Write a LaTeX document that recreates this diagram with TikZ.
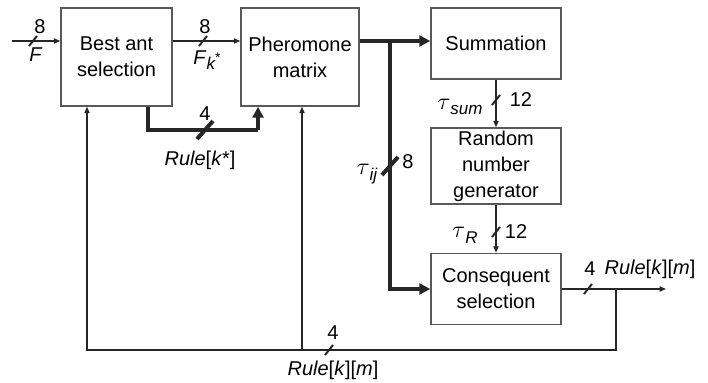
\documentclass[tikz,border=0pt]{standalone}
\usepackage{fontspec}
\setmainfont{Liberation Sans}
\usetikzlibrary{arrows.meta}
\newcommand{\sbs}[1]{\raisebox{-0.45ex}{\fontsize{8.5}{9}\selectfont\itshape #1}}

\begin{document}
\begin{tikzpicture}[x=0.5pt,y=-0.5pt,
		blk/.style={draw=black!65,line width=0.75pt,inner sep=0pt,align=center,
			font=\fontsize{10}{13}\selectfont},
		lbl/.style={inner sep=1pt,font=\fontsize{10}{12}\selectfont},
		wire/.style={line width=0.65pt,draw=black!85},
		wirea/.style={wire,-{Triangle[length=3.2pt,width=2.6pt]}},
		bus/.style={line width=2pt,draw=black!85},
		busa/.style={bus,-{Triangle[length=5.5pt,width=5.5pt]}},
		tick/.style={line width=1pt,draw=black!85},
		ticktk/.style={line width=2pt,draw=black!85}]
	\useasboundingbox (0,0) rectangle (708,383);
	
	% blocs
	\node[blk,minimum width=55.5pt,minimum height=49pt] (bas) at (116.5,57) {Best ant\\selection};
	\node[blk,minimum width=59pt,minimum height=49pt] (phm) at (300,57) {Pheromone\\matrix};
	\node[blk,minimum width=65pt,minimum height=35.5pt] (sum) at (496,43.5) {Summation};
	\node[blk,minimum width=65pt,minimum height=38pt] (rng) at (496,166) {Random\\number\\generator};
	\node[blk,minimum width=65pt,minimum height=35.5pt] (cs) at (496,289) {Consequent\\selection};
	
	% punts auxiliars
	\coordinate (in) at (12,41);
	\coordinate (rk1) at (148,130);
	\coordinate (rk2) at (258,130);
	\coordinate (tap) at (390,41);
	\coordinate (fb) at (616,289);
	\coordinate (out) at (666,289);
	\coordinate (fb1) at (87,350);
	\coordinate (fb2) at (302,350);
	
	% connexions
	\draw[wirea] (in) -- (in -| bas.west);
	\draw[wirea] (bas.east |- in) -- (phm.west |- in);
	\draw[bus] (bas.south -| rk1) -- (rk1) -- (rk2);
	\draw[busa] (rk2) -- (rk2 |- phm.south);
	\draw[busa] (phm.east |- tap) -- (tap -| sum.west);
	\draw[busa] (tap) |- (cs.west);
	\draw[wirea] (sum.south) -- (rng.north);
	\draw[wirea] (rng.south) -- (cs.north);
	\draw[wirea] (cs.east) -- (out);
	\draw[wirea] (fb) |- (fb1) -- (fb1 |- bas.south);
	\draw[wirea] (fb2) -- (fb2 |- phm.south);
	
	% marques de bus
	\foreach \x/\y in {33/41,203/41,496/100,496/232,588/289,329/350}
	\draw[tick] (\x-4,\y+5) -- (\x+4,\y-5);
	\foreach \x/\y in {205/130,390/166}
	\draw[ticktk] (\x-8,\y+9) -- (\x+8,\y-9);
	
	% etiquetes
	\node[lbl] (n1) at (40,27) {8};
	\node[lbl] (l1) at (36,55) {\textit{F}};
	\node[lbl] (n2) at (205,27) {8};
	\node[lbl] (l2) at (207,60) {\textit{F}\sbs{k}\raisebox{0.2ex}{\fontsize{7}{7}\selectfont *}};
	\node[lbl] (n3) at (205,114) {4};
	\node[lbl] (l3) at (200,160) {\textit{Rule}[\textit{k}*]};
	\node[lbl] (n4) at (408,162) {8};
	\node[lbl] (l4) at (367,174) {\fontsize{12}{12}\selectfont$\tau$\sbs{ij}};
	\node[lbl] (n5) at (521,100) {12};
	\node[lbl] (l5) at (460,107) {\fontsize{12}{12}\selectfont$\tau$\sbs{sum}};
	\node[lbl] (n6) at (516,232) {12};
	\node[lbl] (l6) at (465,235) {\fontsize{12}{12}\selectfont$\tau$\sbs{R}};
	\node[lbl] (n7) at (590,269) {4};
	\node[lbl] (l7) at (650,269) {\textit{Rule}[\textit{k}][\textit{m}]};
	\node[lbl] (n8) at (333,333) {4};
	\node[lbl] (l8) at (333,370) {\textit{Rule}[\textit{k}][\textit{m}]};
\end{tikzpicture}
\end{document}
